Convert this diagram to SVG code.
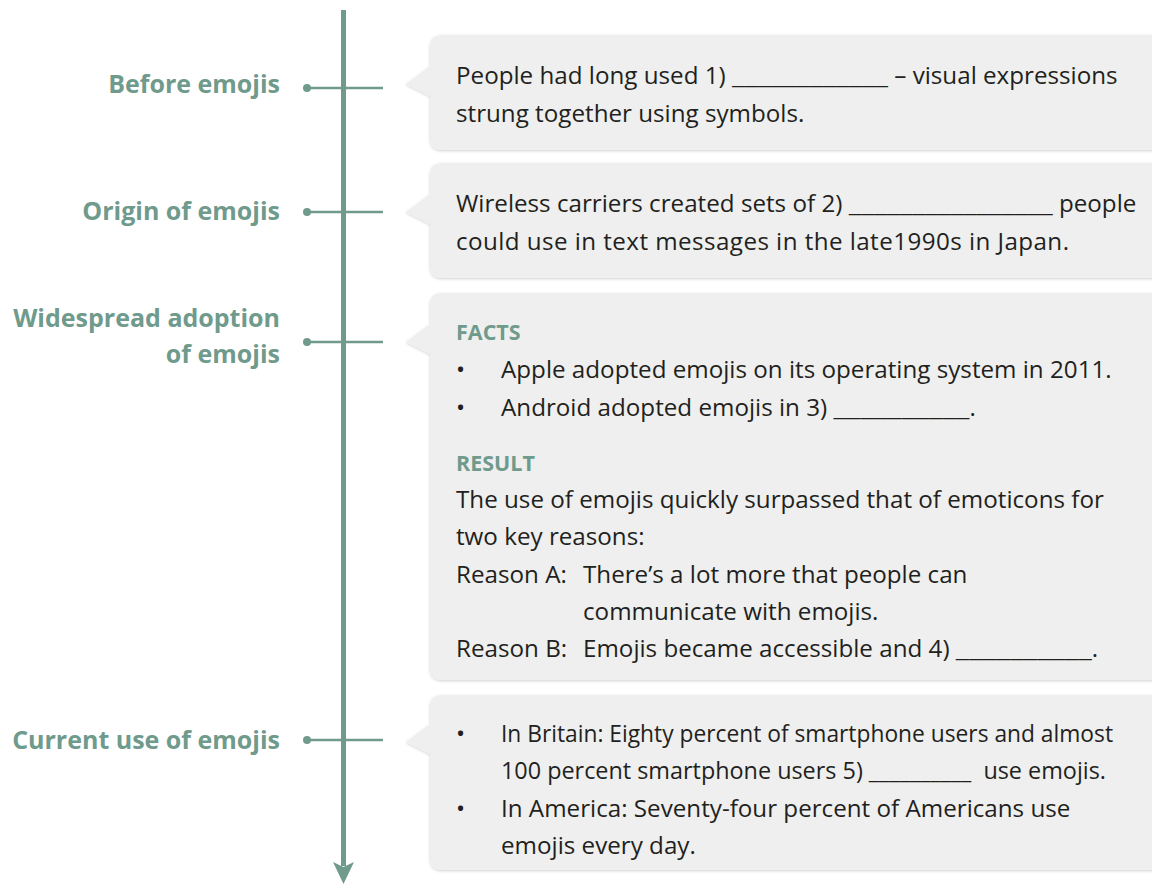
<svg xmlns="http://www.w3.org/2000/svg" width="1152" height="884" viewBox="0 0 1152 884">
<style>
.lbl{font-family:"Open Sans","Noto Sans",sans-serif;font-weight:bold;font-size:25px;fill:#6f9a8c;text-anchor:end}
.hd{font-family:"Open Sans","Noto Sans",sans-serif;font-weight:bold;font-size:21.5px;fill:#6f9a8c}
.tx{font-family:"Open Sans","Noto Sans",sans-serif;font-size:24.2px;fill:#231f20}
.box{fill:#eeefee;filter:url(#sh)}
.br{stroke:#6f9a8c;stroke-width:2.5;fill:none}
.dot{fill:#6f9a8c}
</style>
<defs>
<filter id="sh" x="-5%" y="-5%" width="110%" height="115%">
<feDropShadow dx="0" dy="1" stdDeviation="1.5" flood-color="#000" flood-opacity="0.18"/>
</filter>
</defs>
<rect width="1152" height="884" fill="#ffffff"/>

<g id="connectors">
<line x1="343.5" y1="10" x2="343.5" y2="866" stroke="#6f9a8c" stroke-width="5"/>
<polygon points="333,862 343.5,867 354,862 343.5,884" fill="#6f9a8c"/>
<line class="br" x1="307" y1="88" x2="383" y2="88"/>
<circle class="dot" cx="307" cy="88" r="4"/>
<line class="br" x1="307" y1="212" x2="383" y2="212"/>
<circle class="dot" cx="307" cy="212" r="4"/>
<line class="br" x1="307" y1="342" x2="383" y2="342"/>
<circle class="dot" cx="307" cy="342" r="4"/>
<line class="br" x1="307" y1="740" x2="383" y2="740"/>
<circle class="dot" cx="307" cy="740" r="4"/>
</g>

<g id="node1">
<text class="lbl" x="280" y="93">Before emojis</text>
<path class="box" d="M442,35 H1165 V150 H442 Q430,150 430,138 V96 L406,84 L430,66 V47 Q430,35 442,35 Z"/>
<text class="tx" x="456" y="84">People had long used 1) <tspan textLength="156" lengthAdjust="spacingAndGlyphs">____________</tspan> – visual expressions</text>
<text class="tx" x="456" y="122">strung together using symbols.</text>
</g>

<g id="node2">
<text class="lbl" x="280" y="220">Origin of emojis</text>
<path class="box" d="M442,163 H1165 V278 H442 Q430,278 430,266 V224 L406,212 L430,194 V175 Q430,163 442,163 Z"/>
<text class="tx" x="456" y="212">Wireless carriers created sets of 2) <tspan textLength="204" lengthAdjust="spacingAndGlyphs">________________</tspan> people</text>
<text class="tx" x="456" y="250" textLength="613" lengthAdjust="spacing">could use in text messages in the late1990s in Japan.</text>
</g>

<g id="node3">
<text class="lbl" x="280" y="327">Widespread adoption</text>
<text class="lbl" x="280" y="363">of emojis</text>
<path class="box" d="M442,293 H1165 V680 H442 Q430,680 430,668 V354 L406,342 L430,324 V305 Q430,293 442,293 Z"/>
<text class="hd" x="456" y="340">FACTS</text>
<text class="tx" x="456" y="378">•</text>
<text class="tx" x="501" y="378">Apple adopted emojis on its operating system in 2011.</text>
<text class="tx" x="456" y="416">•</text>
<text class="tx" x="501" y="416">Android adopted emojis in 3) <tspan textLength="136" lengthAdjust="spacingAndGlyphs">__________</tspan>.</text>
<text class="hd" x="456" y="471">RESULT</text>
<text class="tx" x="456" y="508">The use of emojis quickly surpassed that of emoticons for</text>
<text class="tx" x="456" y="545">two key reasons:</text>
<text class="tx" x="456" y="583">Reason A:</text>
<text class="tx" x="583" y="583">There’s a lot more that people can</text>
<text class="tx" x="583" y="620">communicate with emojis.</text>
<text class="tx" x="456" y="657">Reason B:</text>
<text class="tx" x="583" y="657">Emojis became accessible and 4) <tspan textLength="136" lengthAdjust="spacingAndGlyphs">__________</tspan>.</text>
</g>

<g id="node4">
<text class="lbl" x="280" y="749">Current use of emojis</text>
<path class="box" d="M442,695 H1165 V870 H442 Q430,870 430,858 V754 L406,742 L430,724 V707 Q430,695 442,695 Z"/>
<text class="tx" x="456" y="742">•</text>
<text class="tx" x="501" y="742" textLength="612" lengthAdjust="spacingAndGlyphs">In Britain: Eighty percent of smartphone users and almost</text>
<text class="tx" x="501" y="779" xml:space="preserve" textLength="605" lengthAdjust="spacingAndGlyphs">100 percent smartphone users 5) __________  use emojis.</text>
<text class="tx" x="456" y="817">•</text>
<text class="tx" x="501" y="817">In America: Seventy-four percent of Americans use</text>
<text class="tx" x="501" y="854">emojis every day.</text>
</g>
</svg>
